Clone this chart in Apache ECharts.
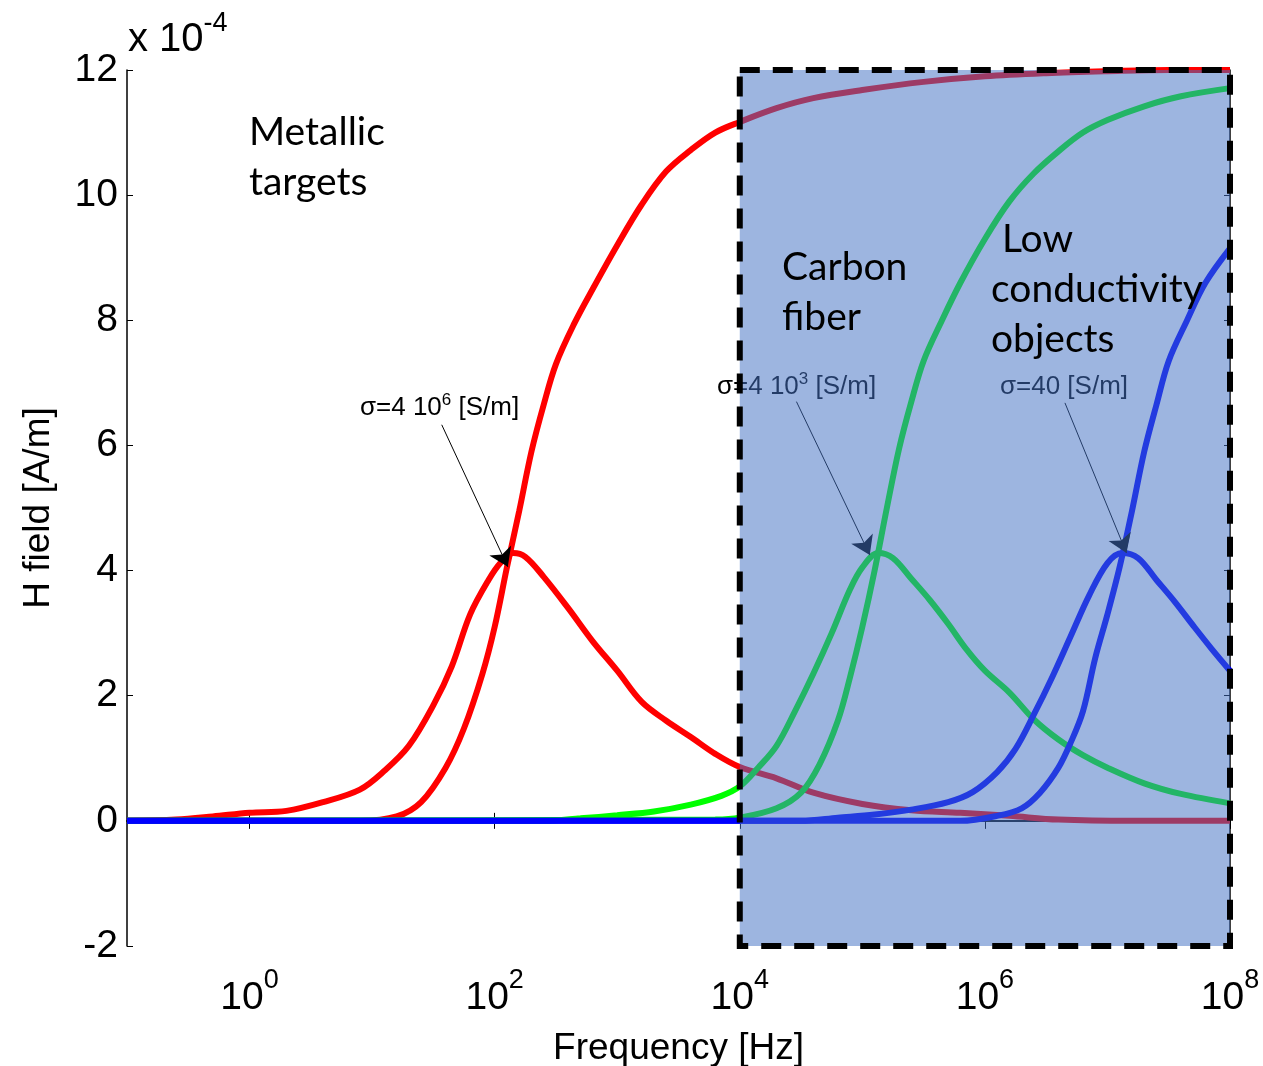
<!DOCTYPE html>
<html>
<head>
<meta charset="utf-8">
<title>H field vs frequency</title>
<script src="https://cdn.jsdelivr.net/npm/echarts@6.0.0/dist/echarts.min.js"></script>
<style>
  html, body { margin: 0; padding: 0; background: #fff; }
  #chart { width: 1263px; height: 1066px; }
</style>
</head>
<body>
<div id="chart"></div>
<script>
// frequency as log10(f [Hz]), H field in units of 1e-4 A/m
var metalRealLogF = [-1, 0.5, 0.9, 1.2, 1.4, 1.6, 1.75, 1.9, 2.0, 2.1, 2.2, 2.3, 2.4, 2.5, 2.65, 2.8, 3.0, 3.2, 3.4, 3.6, 3.8, 4.0, 4.3, 4.6, 5.0, 5.5, 6.0, 6.5, 7.0, 7.5, 8.0];
var metalReal = [0, 0, 0, 0.07, 0.3, 0.85, 1.48, 2.35, 3.1, 4.05, 4.95, 5.9, 6.65, 7.3, 7.95, 8.5, 9.2, 9.85, 10.38, 10.72, 11.0, 11.17, 11.39, 11.55, 11.68, 11.81, 11.9, 11.95, 11.98, 12, 12];

var metalImagLogF = [-1, -0.6, -0.3, 0, 0.3, 0.6, 0.9, 1.1, 1.3, 1.5, 1.65, 1.8, 1.95, 2.05, 2.15, 2.25, 2.4, 2.6, 2.8, 3.0, 3.2, 3.4, 3.6, 3.8, 4.0, 4.3, 4.6, 5.0, 5.4, 5.8, 6.2, 6.6, 7.2, 8.0];
var metalImag = [0, 0.02, 0.07, 0.13, 0.16, 0.3, 0.5, 0.8, 1.2, 1.85, 2.47, 3.3, 3.85, 4.13, 4.28, 4.22, 3.9, 3.4, 2.87, 2.4, 1.9, 1.6, 1.34, 1.07, 0.86, 0.68, 0.45, 0.27, 0.17, 0.13, 0.08, 0.02, 0, 0];

var carbonRealLogF = [-1, 3.8, 4.0, 4.3, 4.5, 4.65, 4.8, 4.9, 5.0, 5.1, 5.2, 5.3, 5.4, 5.5, 5.65, 5.8, 6.0, 6.2, 6.4, 6.6, 6.8, 7.0, 7.3, 7.6, 8.0];
var carbonReal = [0, 0.02, 0.05, 0.2, 0.45, 0.9, 1.6, 2.3, 3.1, 4.0, 5.0, 5.95, 6.7, 7.35, 8.0, 8.6, 9.3, 9.9, 10.35, 10.7, 11.0, 11.2, 11.42, 11.58, 11.71];

var carbonImagLogF = [-1, 2.4, 2.7, 3.0, 3.3, 3.6, 3.85, 4.0, 4.15, 4.3, 4.45, 4.6, 4.75, 4.9, 5.0, 5.13, 5.25, 5.4, 5.55, 5.7, 5.85, 6.0, 6.2, 6.4, 6.6, 6.8, 7.0, 7.3, 7.6, 8.0];
var carbonImag = [0, 0, 0.04, 0.09, 0.15, 0.26, 0.4, 0.55, 0.85, 1.2, 1.75, 2.35, 3.0, 3.7, 4.05, 4.28, 4.2, 3.87, 3.53, 3.15, 2.74, 2.4, 2.05, 1.62, 1.3, 1.05, 0.85, 0.6, 0.43, 0.28];

var lowRealLogF = [-1, 5.8, 6.1, 6.3, 6.45, 6.6, 6.7, 6.8, 6.9, 7.0, 7.1, 7.2, 7.3, 7.4, 7.5, 7.65, 7.8, 8.0];
var lowReal = [0, 0, 0.08, 0.2, 0.45, 0.85, 1.25, 1.75, 2.6, 3.3, 4.06, 4.95, 5.9, 6.65, 7.35, 8.0, 8.6, 9.15];

var lowImagLogF = [-1, 4.5, 4.8, 5.1, 5.4, 5.7, 5.9, 6.1, 6.25, 6.4, 6.55, 6.7, 6.85, 7.0, 7.12, 7.25, 7.4, 7.55, 7.7, 7.85, 8.0];
var lowImag = [0, 0, 0.05, 0.1, 0.18, 0.3, 0.46, 0.78, 1.15, 1.7, 2.3, 2.95, 3.6, 4.12, 4.28, 4.2, 3.85, 3.5, 3.12, 2.75, 2.4];

// shaded band: frequency range and H range
var bandF = [1e4, 1e8];
var bandH = [12, -2];

var xTicks = [1, 1e2, 1e4, 1e6, 1e8];
var yMin = -2, yMax = 12, yStep = 2;

function pairs(logF, vals) {
  return logF.map(function (e, i) { return [Math.pow(10, e), vals[i]]; });
}

var tickFont = 'Liberation Sans, Arial, sans-serif';
var noteFont = 'Lato, Open Sans, sans-serif';

function curve(name, color, data) {
  return {
    name: name,
    type: 'line',
    data: data,
    showSymbol: false,
    smooth: 0.35,
    z: 2,
    silent: true,
    lineStyle: { color: color, width: 6 },
    itemStyle: { color: color }
  };
}

function arrow(from, to) {
  return {
    silent: true,
    z: 3,
    symbol: ['none', 'arrow'],
    symbolSize: 18,
    label: { show: false },
    itemStyle: { color: '#000' },
    lineStyle: { color: '#000', width: 1, type: 'solid' },
    emphasis: { disabled: true },
    data: [[{ coord: from }, { coord: to }]]
  };
}

var chart = echarts.init(document.getElementById('chart'));

var red = curve('metal imag', '#ff0000', pairs(metalImagLogF, metalImag));
red.markLine = arrow([37, 6.33], [128, 4.06]);
var green = curve('carbon imag', '#00ff00', pairs(carbonImagLogF, carbonImag));
green.markLine = arrow([2.9e4, 6.7], [1.15e5, 4.25]);
var blue = curve('low imag', '#0000ff', pairs(lowImagLogF, lowImag));
blue.markLine = arrow([4.5e6, 6.68], [1.43e7, 4.28]);

var supRich = function (base, sup, lh, slh) {
  return {
    b: { fontFamily: tickFont, fontSize: base, lineHeight: lh, color: '#000' },
    s: { fontFamily: tickFont, fontSize: sup, lineHeight: slh, verticalAlign: 'top', color: '#000' }
  };
};

chart.setOption({
  animation: false,
  backgroundColor: '#fff',
  grid: { left: 127, right: 33, top: 70, bottom: 120, outerBoundsMode: 'none' },
  xAxis: [{
    type: 'log',
    logBase: 10,
    min: 0.1,
    max: 1e8,
    position: 'bottom',
    name: 'Frequency [Hz]',
    nameLocation: 'middle',
    nameGap: 84,
    nameTextStyle: { fontFamily: tickFont, fontSize: 37, color: '#000' },
    axisLine: { lineStyle: { color: '#000', width: 1.5 } },
    axisTick: { inside: true, length: 8, customValues: xTicks, lineStyle: { color: '#000' } },
    minorTick: { show: false },
    splitLine: { show: false },
    axisLabel: {
      customValues: xTicks,
      margin: 21,
      formatter: function (v) {
        var n = Math.round(Math.log(v) / Math.LN10);
        return '{b|10}{s|' + n + '}';
      },
      rich: supRich(39, 27, 62, 20)
    }
  }, {
    type: 'log',
    logBase: 10,
    min: 0.1,
    max: 1e8,
    position: 'top',
    axisLine: { lineStyle: { color: '#000', width: 1.5 } },
    axisTick: { inside: true, length: 8, customValues: xTicks, lineStyle: { color: '#000' } },
    minorTick: { show: false },
    splitLine: { show: false },
    axisLabel: { show: false }
  }],
  yAxis: [{
    type: 'value',
    min: yMin,
    max: yMax,
    interval: yStep,
    position: 'left',
    name: 'H field [A/m]',
    nameLocation: 'middle',
    nameGap: 70,
    nameTextStyle: { fontFamily: tickFont, fontSize: 37, color: '#000' },
    axisLine: { show: true, lineStyle: { color: '#000', width: 1.5 } },
    axisTick: { show: true, inside: true, length: 6, lineStyle: { color: '#000' } },
    splitLine: { show: false },
    axisLabel: { margin: 9, fontFamily: tickFont, fontSize: 39, color: '#000' }
  }, {
    type: 'value',
    min: yMin,
    max: yMax,
    interval: yStep,
    position: 'right',
    axisLine: { show: true, lineStyle: { color: '#000', width: 1.5 } },
    axisTick: { show: true, inside: true, length: 6, lineStyle: { color: '#000' } },
    splitLine: { show: false },
    axisLabel: { show: false }
  }],
  series: [
    curve('metal real', '#ff0000', pairs(metalRealLogF, metalReal)),
    red,
    curve('carbon real', '#00ff00', pairs(carbonRealLogF, carbonReal)),
    green,
    curve('low real', '#0000ff', pairs(lowRealLogF, lowReal)),
    blue,
    {
      type: 'custom',
      z: 10,
      silent: true,
      clip: false,
      data: [[bandF[0], bandH[0], bandF[1], bandH[1]]],
      encode: { x: [0, 2], y: [1, 3] },
      renderItem: function (params, api) {
        var p0 = api.coord([api.value(0), api.value(1)]);
        var p1 = api.coord([api.value(2), api.value(3)]);
        return {
          type: 'rect',
          shape: { x: p0[0], y: p0[1], width: p1[0] - p0[0], height: p1[1] - p0[1] },
          style: { fill: 'rgba(68,114,196,0.52)', stroke: '#000', lineWidth: 6, lineDash: [20, 13] }
        };
      }
    }
  ],
  graphic: { elements: [
    { type: 'text', left: 128, top: 10, z: 20, silent: true,
      style: { text: '{b|x 10}{s|-4}', rich: supRich(40, 27, 60, 22) } },
    { type: 'text', left: 249, top: 107, z: 20, silent: true,
      style: { text: 'Metallic\ntargets', font: '39px ' + noteFont, lineHeight: 50, fill: '#000' } },
    { type: 'text', left: 782, top: 242, z: 20, silent: true,
      style: { text: 'Carbon\nfiber', font: '39px ' + noteFont, lineHeight: 50, fill: '#000' } },
    { type: 'text', left: 1002, top: 214, z: 20, silent: true,
      style: { text: 'Low', font: '39px ' + noteFont, lineHeight: 50, fill: '#000' } },
    { type: 'text', left: 991, top: 264, z: 20, silent: true,
      style: { text: 'conductivity\nobjects', font: '39px ' + noteFont, lineHeight: 50, fill: '#000' } },
    { type: 'text', left: 360, top: 392, z: 3, silent: true,
      style: { text: '{b|σ=4 10}{s|6}{b| [S/m]}', rich: supRich(26, 17, 32, 13) } },
    { type: 'text', left: 717, top: 371, z: 3, silent: true,
      style: { text: '{b|σ=4 10}{s|3}{b| [S/m]}', rich: supRich(26, 17, 32, 13) } },
    { type: 'text', left: 1000, top: 374, z: 3, silent: true,
      style: { text: '{b|σ=40 [S/m]}', rich: supRich(26, 17, 32, 13) } }
  ] }
});
</script>
</body>
</html>
